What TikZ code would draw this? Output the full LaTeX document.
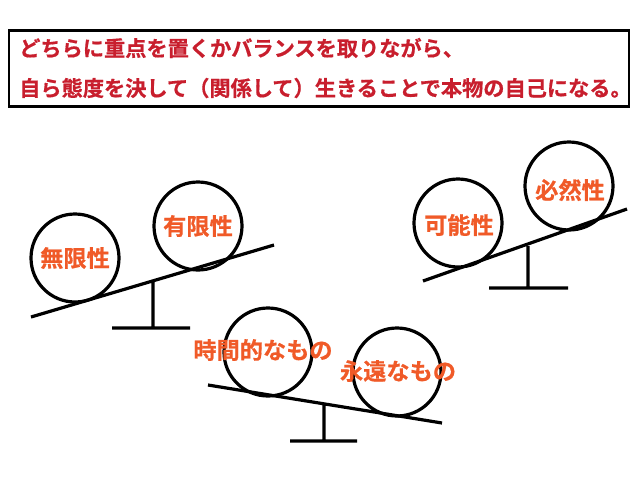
\documentclass[tikz,border=0pt]{standalone}
\usepackage{fontspec}
\newfontfamily\jpfont{Noto Sans CJK JP}[BoldFont={Noto Sans CJK JP Bold}, BoldFeatures={FakeBold=0.6}]
\definecolor{titlered}{HTML}{C81E2D}
\definecolor{labelorange}{HTML}{F05A28}
\tikzset{
    ball/.style={circle, draw, line width=2.4pt, minimum size=66pt, inner sep=0pt},
    balllabel/.style={text=labelorange, font=\jpfont\bfseries\fontsize{17.4}{17.4}\selectfont, inner sep=0pt},
    beam/.style={line width=2.4pt},
    titleline/.style={anchor=west, text=titlered, font=\jpfont\bfseries\fontsize{15.9}{15.9}\selectfont, inner sep=0pt}
}
\begin{document}
\begin{tikzpicture}[x=0.75pt, y=-0.75pt]
    \useasboundingbox (0,0) rectangle (640,480);
    % title box
    \node[draw, line width=2.2pt, minimum width=465pt, minimum height=57pt, inner sep=0pt] (titlebox) at (319,68.5) {};
    \node[titleline] (line1) at (19,48) {どちらに重点を置くかバランスを取りながら、};
    \node[titleline] (line2) at (19,88) {自ら態度を決して（関係して）生きることで本物の自己になる。};

    % left seesaw
    \coordinate (b1l) at (31,317);
    \coordinate (b1r) at (274,245);
    \coordinate (p1top) at (153,281);
    \coordinate (p1bot) at (153,328);
    \coordinate (f1l) at (112,328);
    \coordinate (f1r) at (190,328);
    \draw[beam] (b1l)--(b1r) (p1top)--(p1bot) (f1l)--(f1r);
    \node[ball] (infinite) at (75,258) {};
    \node[ball] (finite) at (198,226) {};
    \node[balllabel] at (infinite) {無限性};
    \node[balllabel] at (finite) {有限性};

    % right seesaw
    \coordinate (b2l) at (423,281);
    \coordinate (b2r) at (627,209);
    \coordinate (p2top) at (528,246);
    \coordinate (p2bot) at (528,288);
    \coordinate (f2l) at (489,288);
    \coordinate (f2r) at (568,288);
    \draw[beam] (b2l)--(b2r) (p2top)--(p2bot) (f2l)--(f2r);
    \node[ball] (possible) at (458,223) {};
    \node[ball] (necessary) at (569,186) {};
    \node[balllabel] at (459,225) {可能性};
    \node[balllabel] at (570,190) {必然性};

    % bottom seesaw
    \coordinate (b3l) at (208,385);
    \coordinate (b3r) at (442,423);
    \coordinate (p3top) at (324,404);
    \coordinate (p3bot) at (324,441);
    \coordinate (f3l) at (290,441);
    \coordinate (f3r) at (357,441);
    \draw[beam] (b3l)--(b3r) (p3top)--(p3bot) (f3l)--(f3r);
    \node[ball] (temporal) at (268,352) {};
    \node[ball] (eternal) at (397,372) {};
    \node[balllabel] at (263,350) {時間的なもの};
    \node[balllabel] at (398,371) {永遠なもの};
\end{tikzpicture}
\end{document}
